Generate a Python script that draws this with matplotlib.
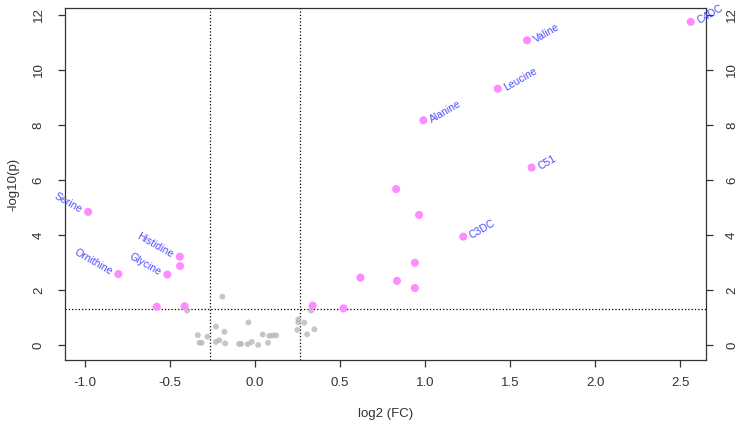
import matplotlib.pyplot as plt
import numpy as np

plt.rcParams["font.family"] = ["Liberation Sans", "DejaVu Sans"]

# significant metabolites (pink)
sig_fc = [2.563, 1.60, 1.428, 0.99, 1.627, 0.83, 0.965, 1.225, 0.94, 0.62, 0.835, 0.94, 0.52, 0.339,
	-0.982, -0.443, -0.441, -0.516, -0.804, -0.578, -0.414]
sig_p = [11.75, 11.08, 9.32, 8.17, 6.45, 5.67, 4.73, 3.94, 2.99, 2.45, 2.33, 2.07, 1.33, 1.43,
	4.84, 3.21, 2.87, 2.56, 2.58, 1.39, 1.41]
sig_names = ["C4DC", "Valine", "Leucine", "Alanine", "C51", "", "", "C3DC", "", "", "", "", "", "",
	"Serine", "Histidine", "", "Glycine", "Ornithine", "", ""]

# non significant (grey)
ns_fc = [-0.192, -0.23, -0.18, -0.039, -0.337, -0.28, -0.327, -0.314, -0.231, -0.21, -0.176,
	-0.094, -0.082, -0.043, -0.02, 0.018, 0.045, 0.076, 0.084, 0.104, 0.124,
	0.255, 0.255, 0.29, 0.249, 0.349, 0.306, -0.40, 0.33]
ns_p = [1.76, 0.67, 0.48, 0.82, 0.36, 0.30, 0.08, 0.08, 0.11, 0.17, 0.06,
	0.04, 0.04, 0.03, 0.11, 0.0, 0.38, 0.08, 0.33, 0.35, 0.35,
	0.93, 0.82, 0.81, 0.55, 0.57, 0.39, 1.25, 1.25]

FC_CUT = 0.263
P_CUT = 1.301

fig = plt.figure(figsize=(7.49, 4.26), dpi=100)
ax = fig.add_axes([0.0868, 0.155, 0.8558, 0.826])

ax.scatter(ns_fc, ns_p, s=18, color="#b8b8b8", alpha=0.8, edgecolors="none", zorder=2)
ax.scatter(sig_fc, sig_p, s=34, color="#ff8cff", edgecolors="none", zorder=3)

for x, y, name in zip(sig_fc, sig_p, sig_names):
	if name == "":
		continue
	if x > 0:
		ax.annotate(name, (x, y), xytext=(5, 0), textcoords="offset points",
			ha="left", va="center", rotation=30, rotation_mode="anchor",
			color="#4a4aff", fontsize=7.5)
	else:
		ax.annotate(name, (x, y), xytext=(-5, 1), textcoords="offset points",
			ha="right", va="center", rotation=-30, rotation_mode="anchor",
			color="#4a4aff", fontsize=7.5)

ax.axvline(-FC_CUT, color="black", linestyle=":", linewidth=0.9, zorder=1)
ax.axvline(FC_CUT, color="black", linestyle=":", linewidth=0.9, zorder=1)
ax.axhline(P_CUT, color="black", linestyle=":", linewidth=0.9, zorder=1)

ax.set_xlim(-1.118, 2.653)
ax.set_ylim(-0.545, 12.25)
ax.set_xticks(np.arange(-1.0, 2.6, 0.5))
ax.set_xticklabels(["-1.0", "-0.5", "0.0", "0.5", "1.0", "1.5", "2.0", "2.5"])
ax.set_yticks(range(0, 13, 2))
ax.tick_params(axis="both", direction="out", length=5, width=0.9, colors="#333333",
	labelsize=9.5, labelcolor="#333333")
ax.tick_params(axis="y", right=True, labelright=True, labelrotation=90)
for lab in ax.get_yticklabels():
	lab.set_va("center")
ax.tick_params(axis="x", pad=7)
ax.tick_params(axis="y", pad=9.5)
for s in ax.spines.values():
	s.set_color("#333333")
	s.set_linewidth(0.9)

ax.set_xlabel("log2 (FC)", fontsize=9.5, color="#333333", labelpad=14)
ax.set_ylabel("-log10(p)", fontsize=9.5, color="#333333", labelpad=10)

plt.savefig("out.png", dpi=100)
